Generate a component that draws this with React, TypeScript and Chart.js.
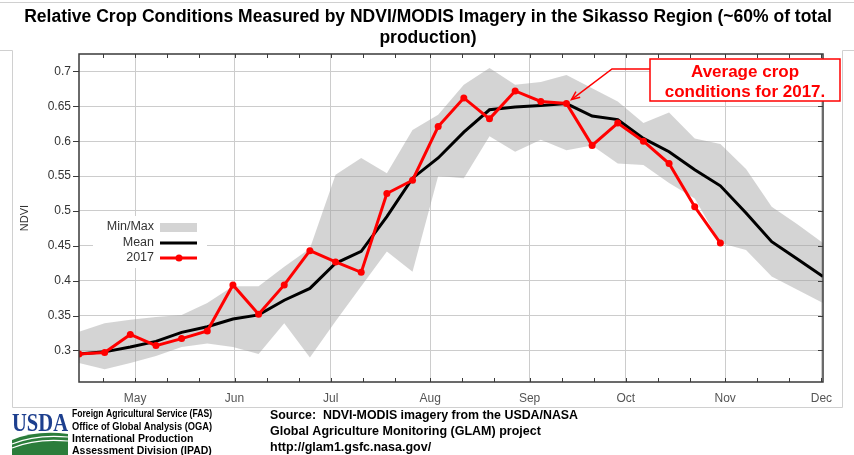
import React, { useEffect, useRef } from 'react';
import { Chart, registerables } from 'chart.js';

Chart.register(...registerables);

// ---- data ----
const titleLines = [
  'Relative Crop Conditions Measured by NDVI/MODIS Imagery in the Sikasso Region (~60% of total',
  'production)',
];
// 8-day composite positions (day of year)
const compositeDays = [
  103.5, 111.5, 119.5, 127.5, 135.5, 143.5, 151.5, 159.5, 167.5, 175.5,
  183.5, 191.5, 199.5, 207.5, 215.5, 223.5, 231.5, 239.5, 247.5, 255.5,
  263.5, 271.5, 279.5, 287.5, 295.5, 303.5, 311.5, 319.5, 327.5, 335.5,
];
const ndviMax = [
  0.327, 0.339, 0.344, 0.348, 0.351, 0.368, 0.392, 0.392, 0.42, 0.446,
  0.552, 0.576, 0.554, 0.616, 0.638, 0.681, 0.705, 0.681, 0.685, 0.695,
  0.676, 0.657, 0.626, 0.641, 0.604, 0.596, 0.56, 0.506, 0.481, 0.454,
];
const ndviMin = [
  0.282, 0.273, 0.282, 0.292, 0.305, 0.31, 0.305, 0.295, 0.339, 0.29,
  0.342, 0.392, 0.442, 0.413, 0.55, 0.547, 0.607, 0.585, 0.602, 0.587,
  0.594, 0.568, 0.566, 0.54, 0.518, 0.454, 0.444, 0.406, 0.387, 0.368,
];
const ndviMean = [
  0.295, 0.298, 0.305, 0.313, 0.326, 0.334, 0.345, 0.351, 0.372, 0.389,
  0.425, 0.442, 0.492, 0.547, 0.576, 0.613, 0.645, 0.649, 0.651, 0.654,
  0.636, 0.631, 0.604, 0.585, 0.559, 0.536, 0.497, 0.456, 0.431, 0.406,
];
const ndvi2017 = [
  0.295, 0.297, 0.323, 0.307, 0.317, 0.328, 0.394, 0.352, 0.394, 0.443,
  0.427, 0.412, 0.525, 0.544, 0.621, 0.662, 0.632, 0.672, 0.657, 0.654,
  0.594, 0.626, 0.6, 0.568, 0.506, 0.454,
];
const monthLabels = ['May', 'Jun', 'Jul', 'Aug', 'Sep', 'Oct', 'Nov', 'Dec'];
const monthStartDays = [121, 152, 182, 213, 244, 274, 305, 335];
const dekadTickDays = [
  111, 121, 131, 141, 152, 162, 172, 182, 192, 202, 213, 223, 233, 244, 254,
  264, 274, 284, 294, 305, 315, 325, 335,
];
const yTickValues = [0.3, 0.35, 0.4, 0.45, 0.5, 0.55, 0.6, 0.65, 0.7];
const legendLabels = ['Min/Max', 'Mean', '2017'];
const annotationLines = ['Average crop', 'conditions for 2017.'];
const annotatedIndex = 19;
const agencyLines = [
  'Foreign Agricultural Service (FAS)',
  'Office of Global Analysis (OGA)',
  'International Production',
  'Assessment Division (IPAD)',
];
const sourceLines = [
  'Source:  NDVI-MODIS imagery from the USDA/NASA',
  'Global Agriculture Monitoring (GLAM) project',
  'http://glam1.gsfc.nasa.gov/',
];

const SANS = '"Liberation Sans", Arial, sans-serif';
const RED = '#ff0000';

const toPoints = (vals: number[]) => vals.map((v, i) => ({ x: compositeDays[i], y: v }));

const overlayPlugin = {
  id: 'overlay',
  beforeDraw(chart: any) {
    const { ctx, width, height } = chart;
    ctx.save();
    ctx.fillStyle = '#ffffff';
    ctx.fillRect(0, 0, width, height);
    ctx.restore();
  },
  afterDraw(chart: any) {
    const { ctx, chartArea: a } = chart;
    const xs = chart.scales.x;
    const ys = chart.scales.y;
    ctx.save();

    // page frame lines
    ctx.strokeStyle = '#d0d0d0';
    ctx.lineWidth = 1;
    ctx.beginPath();
    ctx.moveTo(0, 2.5); ctx.lineTo(854, 2.5);
    ctx.moveTo(0, 50.5); ctx.lineTo(12.5, 50.5); ctx.lineTo(12.5, 407.5); ctx.lineTo(842.5, 407.5); ctx.lineTo(842.5, 50.5); ctx.lineTo(854, 50.5);
    ctx.stroke();

    // plot border
    ctx.strokeStyle = '#3a3a3a';
    ctx.lineWidth = 1.5;
    ctx.strokeRect(a.left, a.top, a.right - a.left, a.bottom - a.top);

    // tick marks
    ctx.lineWidth = 1;
    ctx.beginPath();
    for (const d of dekadTickDays) {
      const px = Math.round(xs.getPixelForValue(d)) + 0.5;
      ctx.moveTo(px, a.top); ctx.lineTo(px, a.top + 4);
      ctx.moveTo(px, a.bottom); ctx.lineTo(px, a.bottom - 4);
    }
    for (const v of yTickValues) {
      const py = Math.round(ys.getPixelForValue(v)) + 0.5;
      ctx.moveTo(a.left - 6, py); ctx.lineTo(a.left, py);
      ctx.moveTo(a.right - 5, py); ctx.lineTo(a.right, py);
    }
    ctx.stroke();

    // y axis title
    ctx.save();
    ctx.translate(25, 218);
    ctx.rotate(-Math.PI / 2);
    ctx.fillStyle = '#333';
    ctx.font = `11px ${SANS}`;
    ctx.textAlign = 'center';
    ctx.textBaseline = 'middle';
    ctx.fillText('NDVI', 0, 0);
    ctx.restore();

    // legend
    ctx.fillStyle = '#ffffff';
    ctx.fillRect(93, 216, 114, 52);
    ctx.font = `12.5px ${SANS}`;
    ctx.fillStyle = '#333';
    ctx.textAlign = 'right';
    ctx.textBaseline = 'middle';
    const ly = [227, 243, 258];
    legendLabels.forEach((t, i) => ctx.fillText(t, 154, ly[i]));
    ctx.fillStyle = 'rgba(160,160,160,0.45)';
    ctx.fillRect(160, 223, 37, 9);
    ctx.strokeStyle = '#000';
    ctx.lineWidth = 3;
    ctx.beginPath(); ctx.moveTo(160, ly[1]); ctx.lineTo(197, ly[1]); ctx.stroke();
    ctx.strokeStyle = RED;
    ctx.beginPath(); ctx.moveTo(160, ly[2]); ctx.lineTo(197, ly[2]); ctx.stroke();
    ctx.fillStyle = RED;
    ctx.beginPath(); ctx.arc(179, ly[2], 3.5, 0, Math.PI * 2); ctx.fill();

    // title
    ctx.fillStyle = '#000';
    ctx.font = `bold 17.5px ${SANS}`;
    ctx.textAlign = 'center';
    ctx.textBaseline = 'middle';
    ctx.fillText(titleLines[0], 428, 17, 818);
    ctx.fillText(titleLines[1], 428, 38);

    // annotation
    const tx = xs.getPixelForValue(compositeDays[annotatedIndex]) + 5;
    const ty = ys.getPixelForValue(ndvi2017[annotatedIndex]) - 4;
    ctx.strokeStyle = RED;
    ctx.lineWidth = 1.5;
    ctx.beginPath();
    ctx.moveTo(650, 69); ctx.lineTo(612, 69); ctx.lineTo(tx, ty);
    ctx.stroke();
    const ang = Math.atan2(ty - 69, tx - 612);
    ctx.beginPath();
    ctx.moveTo(tx - 9 * Math.cos(ang - 0.4), ty - 9 * Math.sin(ang - 0.4));
    ctx.lineTo(tx, ty);
    ctx.lineTo(tx - 9 * Math.cos(ang + 0.4), ty - 9 * Math.sin(ang + 0.4));
    ctx.stroke();
    ctx.fillStyle = '#fff';
    ctx.fillRect(650, 59, 190, 42);
    ctx.strokeRect(650, 59, 190, 42);
    ctx.fillStyle = RED;
    ctx.font = `bold 17px ${SANS}`;
    ctx.fillText(annotationLines[0], 745, 72);
    ctx.fillText(annotationLines[1], 745, 92, 180);

    // USDA logo
    ctx.fillStyle = '#1d3f8e';
    ctx.font = `bold 25px "Liberation Serif", "DejaVu Serif", serif`;
    ctx.textAlign = 'left';
    ctx.textBaseline = 'alphabetic';
    ctx.fillText('USDA', 12, 431, 56);
    ctx.fillStyle = '#2b7d3b';
    ctx.beginPath();
    ctx.moveTo(12, 455); ctx.lineTo(12, 440);
    ctx.quadraticCurveTo(36, 430, 68, 434);
    ctx.lineTo(68, 455); ctx.closePath(); ctx.fill();
    ctx.strokeStyle = '#ffffff';
    ctx.lineWidth = 1.2;
    ctx.beginPath();
    ctx.moveTo(12, 444); ctx.quadraticCurveTo(36, 434, 68, 437);
    ctx.moveTo(12, 448); ctx.quadraticCurveTo(36, 438, 68, 441);
    ctx.stroke();

    // footer text
    ctx.fillStyle = '#000';
    ctx.textBaseline = 'middle';
    ctx.font = `bold 10.5px ${SANS}`;
    const ay = [414, 427, 439, 451];
    agencyLines.forEach((t, i) => ctx.fillText(t, 72, ay[i], 140));
    ctx.font = `bold 12.5px ${SANS}`;
    const sy = [416, 432, 448];
    sourceLines.forEach((t, i) => ctx.fillText(t, 270, sy[i], 308));

    ctx.restore();
  },
};

export default function App() {
  const canvasRef = useRef<HTMLCanvasElement | null>(null);

  useEffect(() => {
    const canvas = canvasRef.current;
    if (!canvas) return;
    const chart = new Chart(canvas, {
      type: 'line',
      data: {
        datasets: [
          {
            label: '2017',
            data: toPoints(ndvi2017),
            borderColor: RED,
            backgroundColor: RED,
            borderWidth: 3,
            pointRadius: 3.5,
            pointBorderWidth: 0,
            pointBackgroundColor: RED,
            fill: false,
            tension: 0,
          },
          {
            label: 'Mean',
            data: toPoints(ndviMean),
            borderColor: '#000',
            borderWidth: 3,
            pointRadius: 0,
            fill: false,
            tension: 0,
          },
          {
            label: 'Max',
            data: toPoints(ndviMax),
            borderWidth: 0,
            borderColor: 'rgba(0,0,0,0)',
            backgroundColor: 'rgba(160,160,160,0.45)',
            pointRadius: 0,
            fill: '+1',
            tension: 0,
          },
          {
            label: 'Min',
            data: toPoints(ndviMin),
            borderWidth: 0,
            borderColor: 'rgba(0,0,0,0)',
            pointRadius: 0,
            fill: false,
            tension: 0,
          },
        ],
      },
      options: {
        responsive: false,
        animation: false,
        events: [],
        layout: { padding: { top: 54, right: 31, left: 0, bottom: 0 } },
        plugins: {
          legend: { display: false },
          tooltip: { enabled: false },
          title: { display: false },
        },
        scales: {
          x: {
            type: 'linear',
            min: 103.5,
            max: 335.5,
            afterBuildTicks: (s: any) => {
              s.ticks = dekadTickDays.map((v) => ({ value: v }));
            },
            afterFit: (s: any) => {
              s.height = 73;
            },
            border: { display: false },
            grid: {
              drawTicks: false,
              lineWidth: 1,
              color: (c: any) =>
                c.tick && monthStartDays.includes(c.tick.value) ? '#cccccc' : 'rgba(0,0,0,0)',
            },
            ticks: {
              autoSkip: false,
              maxRotation: 0,
              padding: 9,
              color: '#555',
              font: { family: SANS, size: 12 },
              callback: (v: any) => {
                const i = monthStartDays.indexOf(Number(v));
                return i >= 0 ? monthLabels[i] : '';
              },
            },
          },
          y: {
            min: 0.2548,
            max: 0.725,
            afterBuildTicks: (s: any) => {
              s.ticks = yTickValues.map((v) => ({ value: v }));
            },
            afterFit: (s: any) => {
              s.width = 79;
            },
            border: { display: false },
            grid: { drawTicks: false, lineWidth: 1, color: '#cccccc' },
            ticks: {
              padding: 8,
              color: '#333',
              font: { family: SANS, size: 12 },
              callback: (v: any) => String(Math.round(Number(v) * 100) / 100),
            },
          },
        },
      },
      plugins: [overlayPlugin],
    });
    return () => chart.destroy();
  }, []);

  return (
    <div style={{ position: 'fixed', left: 0, top: 0, width: 854, height: 455, background: '#fff' }}>
      <canvas ref={canvasRef} width={854} height={455} style={{ display: 'block', width: 854, height: 455 }} />
    </div>
  );
}
